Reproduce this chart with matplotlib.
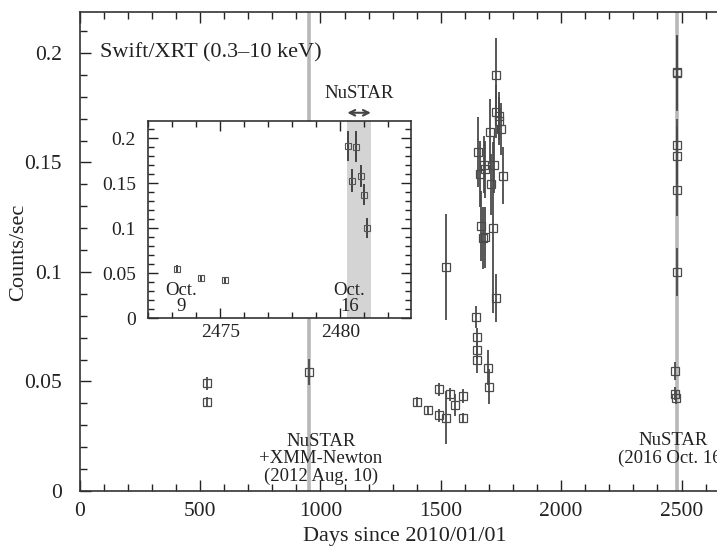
import matplotlib
matplotlib.use("Agg")
import matplotlib.pyplot as plt
from matplotlib.ticker import MultipleLocator
import numpy as np

plt.rcParams['font.family'] = ['Liberation Serif', 'DejaVu Serif']
plt.rcParams['mathtext.fontset'] = 'stix'

# ---- data: Swift/XRT light curve (days since 2010/01/01, counts/s) ----
main_day = [530, 530, 954, 1400, 1447, 1494, 1493, 1522, 1540, 1560, 1591, 1591,
            1523, 1648, 1651, 1651, 1651, 1698, 1700, 1655, 1705, 1730, 1731,
            1743, 1743, 1750, 1722, 1757, 1664, 1681, 1684, 1708, 1666, 1718,
            1674, 1685, 1730]
main_rate = [0.0492, 0.0408, 0.0542, 0.0408, 0.0370, 0.0464, 0.0346, 0.0335,
             0.0442, 0.0394, 0.0434, 0.0335, 0.1023, 0.0793, 0.0703, 0.0644,
             0.0600, 0.0562, 0.0475, 0.1548, 0.1641, 0.1900, 0.1732, 0.1712,
             0.1691, 0.1653, 0.1490, 0.1440, 0.1447, 0.1489, 0.1469, 0.1400,
             0.1209, 0.1202, 0.1155, 0.1158, 0.0880]
main_err = [0.003, 0.002, 0.006, 0.002, 0.002, 0.003, 0.003, 0.012, 0.003,
            0.005, 0.003, 0.002, 0.024, 0.005, 0.004, 0.004, 0.006, 0.008,
            0.008, 0.016, 0.015, 0.017, 0.012, 0.011, 0.011, 0.012, 0.013,
            0.013, 0.015, 0.013, 0.013, 0.014, 0.016, 0.039, 0.014, 0.014,
            0.011]

# 2016 October observations (also shown in the inset)
oct_day = [2473.21, 2474.21, 2475.21, 2480.32, 2480.50, 2480.65, 2480.85,
           2480.99, 2481.13]
oct_rate = [0.0548, 0.0444, 0.0426, 0.1914, 0.1530, 0.1907, 0.1580, 0.1374,
            0.1000]
oct_err = [0.004, 0.003, 0.003, 0.017, 0.013, 0.017, 0.012, 0.012, 0.011]

nustar_days = [952, 2480]
nustar_span = [2480.29, 2481.27]

# ---- figure ----
fig = plt.figure(figsize=(7.17, 5.49), dpi=100)
W, H = 717.0, 549.0
ax = fig.add_axes([79.7 / W, (H - 491) / H, 650 / W, 479 / H])

txt = '#222222'
ecol = '#4a4a4a'
gline = '#b8b8b8'

for d in nustar_days:
    ax.axvline(d, color=gline, lw=2.6, zorder=1)

ax.errorbar(main_day, main_rate, yerr=main_err, fmt='s', ms=5.4, mfc='none',
            mec=ecol, mew=0.9, ecolor=ecol, elinewidth=1.3, capsize=0, zorder=3)
ax.errorbar(oct_day, oct_rate, yerr=oct_err, fmt='s', ms=5.4, mfc='none',
            mec=ecol, mew=0.9, ecolor=ecol, elinewidth=1.3, capsize=0, zorder=3)

ax.set_xlim(0, 2700)
ax.set_ylim(0, 0.2187)
ax.xaxis.set_major_locator(MultipleLocator(500))
ax.xaxis.set_minor_locator(MultipleLocator(100))
ax.yaxis.set_minor_locator(MultipleLocator(0.01))
ax.set_yticks([0, 0.05, 0.1, 0.15, 0.2])
ax.set_yticklabels(['0', '0.05', '0.1', '0.15', '0.2'])
ax.tick_params(which='both', direction='in', top=True, right=True,
               colors=txt, labelsize=15.5, width=1.0)
ax.tick_params(which='major', length=8)
ax.tick_params(which='minor', length=5)
ax.tick_params(axis='y', which='major', pad=13)
ax.tick_params(axis='x', which='major', pad=8)
for s in ax.spines.values():
    s.set_color('#333333')
    s.set_linewidth(1.2)

ax.set_xlabel('Days since 2010/01/01', fontsize=16, color=txt, labelpad=4)
fig.text(19 / W, (H - 252) / H, 'Counts/sec', fontsize=16, color=txt,
         rotation=90, ha='center', va='center')

ax.text(85, 0.2, 'Swift/XRT (0.3\u201310 keV)', fontsize=16, color=txt,
        va='center', ha='left')
ax.text(1002, 0.0146, 'NuSTAR\n+XMM-Newton\n(2012 Aug. 10)', fontsize=13.5,
        color=txt, ha='center', va='center', linespacing=1.05)
ax.text(2463, 0.0188, 'NuSTAR\n(2016 Oct. 16)', fontsize=13.5,
        color=txt, ha='center', va='center', linespacing=1.05)

# ---- inset ----
ins = fig.add_axes([148.3 / W, (H - 318.3) / H, 262.4 / W, 197.6 / H])
ins.set_facecolor('white')
ins.set_zorder(5)
ins.axvspan(nustar_span[0], nustar_span[1], color='#d4d4d4', lw=0, zorder=1)
ins.errorbar(oct_day, oct_rate, yerr=oct_err, fmt='s', ms=4.3, mfc='none',
             mec='#555555', mew=0.8, ecolor='#444444', elinewidth=1.4,
             capsize=0, zorder=3)
ins.set_xlim(2472, 2482.93)
ins.set_ylim(0, 0.2196)
ins.set_xticks([2475, 2480])
ins.xaxis.set_minor_locator(MultipleLocator(1))
ins.set_yticks([0, 0.05, 0.1, 0.15, 0.2])
ins.set_yticklabels(['0', '0.05', '0.1', '0.15', '0.2'])
ins.yaxis.set_minor_locator(MultipleLocator(0.01))
ins.tick_params(which='both', direction='in', top=True, right=True,
                colors=txt, labelsize=14, width=1.0)
ins.tick_params(which='major', length=7)
ins.tick_params(which='minor', length=4)
ins.tick_params(axis='y', which='major', pad=9)
ins.tick_params(axis='x', which='major', pad=4)
for s in ins.spines.values():
    s.set_color('#333333')
    s.set_linewidth(1.2)

ins.text(2473.36, 0.022, 'Oct.\n9', fontsize=13.5, color=txt, ha='center',
         va='center', linespacing=0.9)
ins.text(2480.37, 0.022, 'Oct.\n16', fontsize=13.5, color=txt, ha='center',
         va='center', linespacing=0.9)

ins.annotate('', xy=(nustar_span[0], 0.2284), xytext=(nustar_span[1], 0.2284),
             xycoords='data', annotation_clip=False,
             arrowprops=dict(arrowstyle='<->', color='#444444', lw=1.5,
                             shrinkA=0, shrinkB=0))
ins.text(np.mean(nustar_span), 0.2503, 'NuSTAR', fontsize=13.5, color=txt,
         ha='center', va='center', clip_on=False)

fig.savefig('out.png', dpi=100)
